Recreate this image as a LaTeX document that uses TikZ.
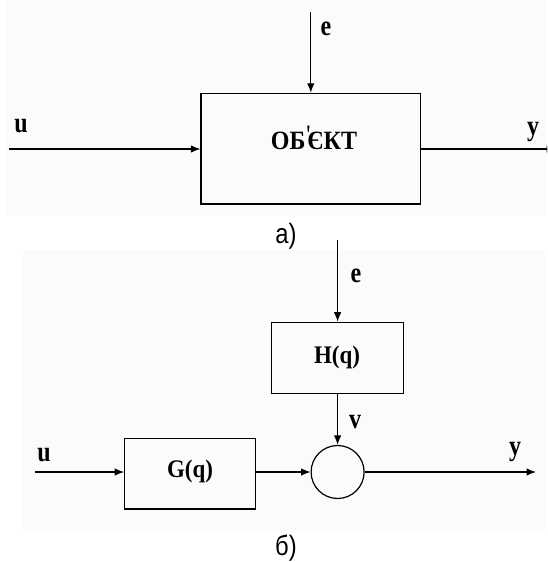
\documentclass[tikz,border=0pt]{standalone}
\usepackage{fontspec}
\setmainfont{Liberation Serif}
\newfontfamily\capfont{Liberation Sans}
\usetikzlibrary{arrows.meta}
\tikzset{
  conn/.style={line width=1.2pt,-{Latex[length=9.5pt,width=7.5pt]}},
  blk/.style={draw,line width=1.2pt,rectangle,inner sep=0pt},
  lbl/.style={font=\fontsize{24}{24}\selectfont\bfseries,inner sep=0pt,anchor=base,yscale=1.2},
  boxtxt/.style={font=\fontsize{23}{23}\selectfont\bfseries,inner sep=0pt,yscale=1.1},
  captxt/.style={font=\capfont\fontsize{28}{28}\selectfont,inner sep=0pt,xscale=0.85},
  panel/.style={fill=black!1.5,draw=none},
  apos/.style={fill=black,draw=none}
}
\begin{document}
\begin{tikzpicture}[x=1pt,y=-1pt]
\useasboundingbox (0,0) rectangle (547,562);
\clip (0,0) rectangle (547,562);
\fill[panel] (5,0) rectangle (547,216);
\fill[panel] (23,250) rectangle (545,532);
% (a)
\node[blk,minimum width=219.5pt,minimum height=110.7pt] (obj) at (310.8,148.7) {};
\node[boxtxt,font=\fontsize{24}{24}\selectfont\bfseries] (objtxt) at (314,141) {ОБ\kern0.08emЄКТ};
\fill[apos] ([shift={(-6.8,-15.5)}]objtxt.center) -- ([shift={(-4.4,-15.5)}]objtxt.center)
  -- ([shift={(-5.4,-9)}]objtxt.center) -- ([shift={(-6.2,-9)}]objtxt.center) -- cycle;
\coordinate (etop) at (310.8,12);
\coordinate (uin) at (9.4,149);
\coordinate (yout) at (556,149);
\draw[conn] (etop) -- (obj.north);
\draw[conn] (uin) -- (uin -| obj.west);
\draw[conn] (obj.east |- yout) -- (yout);
\node[lbl] (le1) at (326,35) {e};
\node[lbl] (lu1) at (21,132) {u};
\node[lbl] (ly1) at (533,135) {y};
\node[captxt] (capa) at (286,236) {a)};
% (b)
\node[blk,minimum width=131.6pt,minimum height=71pt] (H) at (337.6,357.8) {};
\node[boxtxt] (Htxt) at (337,357) {H(q)};
\node[blk,minimum width=131pt,minimum height=70.7pt] (G) at (190.3,473.7) {};
\node[boxtxt] (Gtxt) at (190,471.7) {G(q)};
\node[draw,circle,line width=1.2pt,minimum size=53pt,inner sep=0pt] (sum) at (337.6,472) {};
\coordinate (e2) at (337.6,240);
\coordinate (u2) at (35,472);
\coordinate (y2) at (536,472);
\draw[conn] (e2) -- (H.north);
\draw[conn] (H.south) -- (sum.north);
\draw[conn] (u2) -- (u2 -| G.west);
\draw[conn] (G.east |- sum.west) -- (sum.west);
\draw[conn] (sum.east) -- (y2);
\node[lbl] (le2) at (356,282) {e};
\node[lbl] (lv2) at (355,428) {v};
\node[lbl] (lu2) at (44,461.7) {u};
\node[lbl] (ly2) at (515,455) {y};
\node[captxt] (capb) at (286,548) {б)};
\end{tikzpicture}
\end{document}
